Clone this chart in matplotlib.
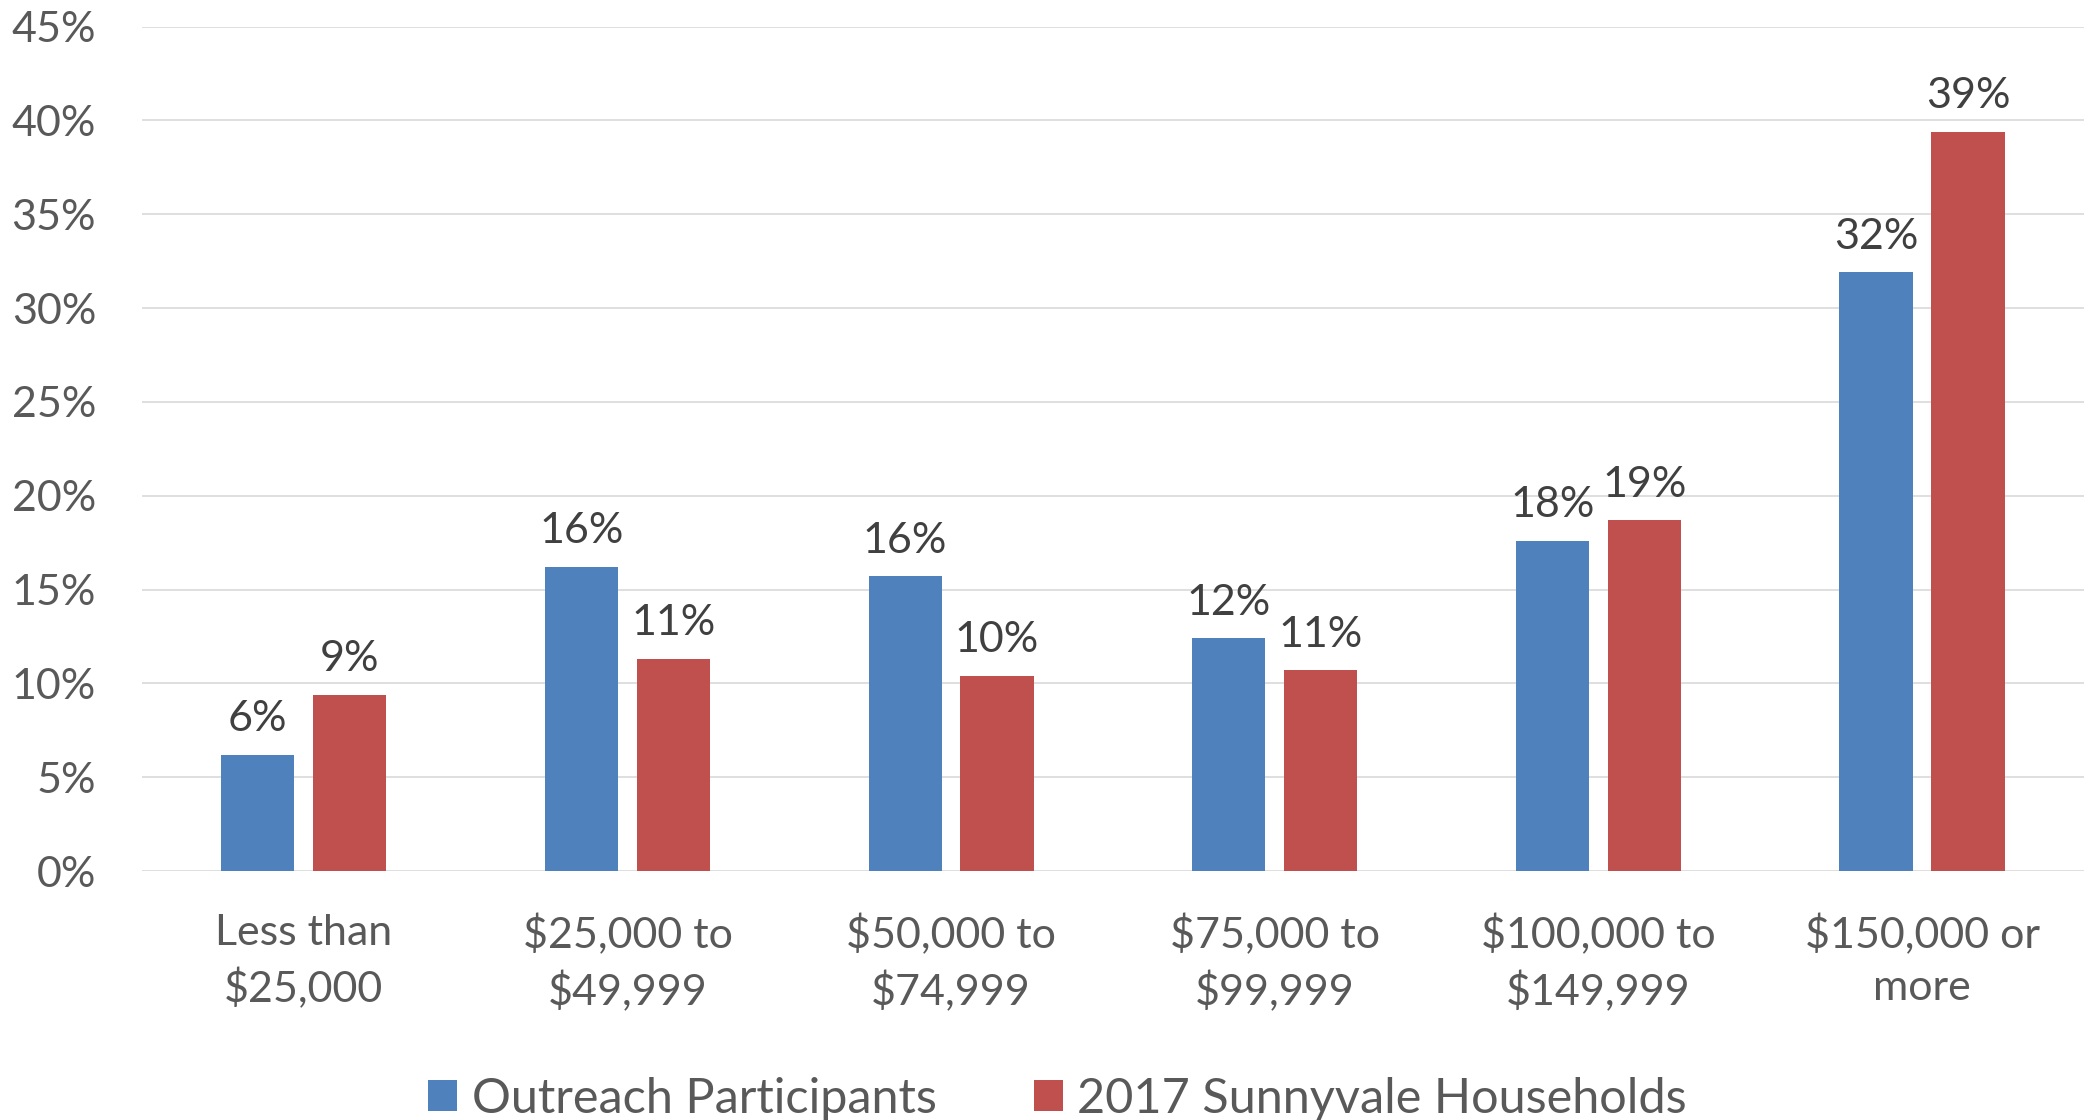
import numpy as np
import matplotlib.pyplot as plt

plt.rcParams['font.family'] = ['Lato', 'DejaVu Sans']

# Dane
categories = ['Less than\n$25,000', '$25,000 to\n$49,999', '$50,000 to\n$74,999',
              '$75,000 to\n$99,999', '$100,000 to\n$149,999', '$150,000 or\nmore']
outreach = [6.2, 16.2, 15.7, 12.4, 17.6, 31.9]
sunnyvale = [9.4, 11.3, 10.4, 10.7, 18.7, 39.4]
series_names = ['Outreach Participants', '2017 Sunnyvale Households']
y_ticks = [0, 5, 10, 15, 20, 25, 30, 35, 40, 45]

blue = '#4F81BD'
red = '#C0504D'
tick_color = '#595959'
label_color = '#404040'

fig = plt.figure(figsize=(20.88, 11.2), dpi=100)
ax = fig.add_axes([0.068, 0.2223, 0.930, 0.7539])

x = np.arange(len(categories))
w = 0.226
off = 0.142
b1 = ax.bar(x - off, outreach, w, color=blue, label=series_names[0], zorder=3)
b2 = ax.bar(x + off, sunnyvale, w, color=red, label=series_names[1], zorder=3)

# Etykiety danych
for bars, vals in ((b1, outreach), (b2, sunnyvale)):
    for rect, v in zip(bars, vals):
        ax.annotate(f'{round(v):.0f}%', (rect.get_x() + rect.get_width() / 2, v),
                    xytext=(0, 17), textcoords='offset points',
                    ha='center', va='baseline', fontsize=31, color=label_color)

ax.set_xlim(-0.5, len(categories) - 0.5)
ax.set_ylim(0, 45)
ax.set_yticks(y_ticks)
ax.set_yticklabels([f'{t}%' for t in y_ticks])
ax.set_xticks(x)
ax.set_xticklabels(categories, linespacing=1.45)
ax.tick_params(axis='y', length=0, pad=33, labelsize=31, labelcolor=tick_color)
ax.tick_params(axis='x', length=0, pad=31, labelsize=31, labelcolor=tick_color)

ax.grid(axis='y', color='#D9D9D9', linewidth=1.2, zorder=0)
for s in ax.spines.values():
    s.set_visible(False)

leg = fig.legend(loc='lower center', bbox_to_anchor=(0.5064, -0.04), ncol=2, frameon=False,
                 fontsize=35, handlelength=0.6, handleheight=0.6,
                 handletextpad=0.3, columnspacing=2.0)
for t in leg.get_texts():
    t.set_color(tick_color)

plt.savefig('out.png', dpi=100)
